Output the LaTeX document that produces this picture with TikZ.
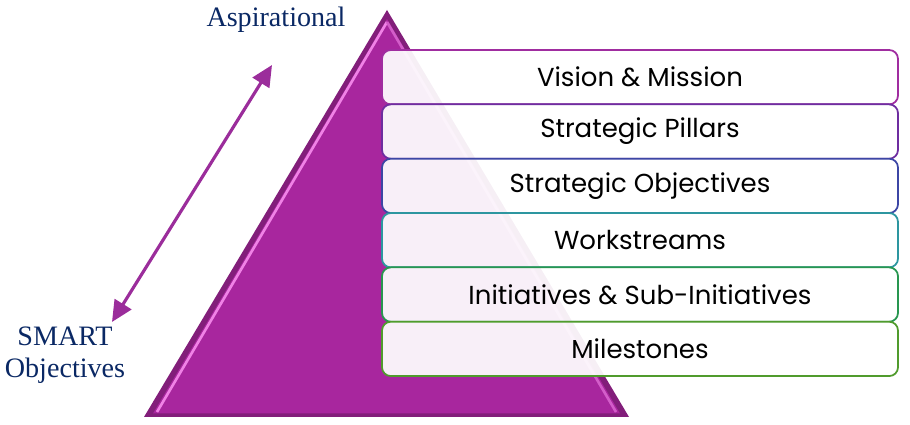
\documentclass[tikz,border=0pt]{standalone}
\usepackage{fontspec}
\usepackage{xcolor}
\usepackage{tikz}
\usetikzlibrary{arrows.meta, positioning, calc}
\setmainfont{Liberation Serif}
\newfontfamily\boxfont{Poppins}
\definecolor{pyramidcolor}{RGB}{168,38,158}
\definecolor{pyramiddark}{RGB}{130,30,122}
\definecolor{pyramidlight}{RGB}{240,130,230}
\definecolor{labelblue}{RGB}{10,40,100}
\definecolor{arrowcolor}{RGB}{155,45,155}
\definecolor{levelA}{RGB}{160,45,160}
\definecolor{levelB}{RGB}{110,45,160}
\definecolor{levelC}{RGB}{60,70,165}
\definecolor{levelD}{RGB}{45,150,160}
\definecolor{levelE}{RGB}{40,150,80}
\definecolor{levelF}{RGB}{80,155,45}

\begin{document}
\begin{tikzpicture}[
    level/.style={draw, line width=1pt, rounded corners=5pt, fill=white, fill opacity=0.93, text opacity=1, minimum width=10.32cm, minimum height=1.087cm, inner sep=0pt, font=\boxfont\fontsize{14.8}{17}\selectfont},
    side/.style={font=\fontsize{16}{18.5}\selectfont, text=labelblue, align=center}
]
    \useasboundingbox (0,0) rectangle (18.2,8.5);

    % Pyramid
    \coordinate (apex) at (7.74,8.30);
    \coordinate (bl) at (2.88,0.16);
    \coordinate (br) at (12.58,0.16);
    \fill[pyramiddark] (apex) -- (bl) -- (br) -- cycle;
    \fill[pyramidcolor] ($(apex)+(0,-0.18)$) -- ($(bl)+(0.18,0.07)$) -- ($(br)+(-0.18,0.07)$) -- cycle;
    \draw[pyramidlight, line width=1.5pt] ($(apex)+(0,-0.24)$) -- ($(bl)+(0.26,0.1)$);
    \draw[pyramidlight!60!pyramidcolor, line width=1.5pt] ($(apex)+(0,-0.24)$) -- ($(br)+(-0.26,0.1)$);

    % Levels
    \node[level, draw=levelA] (vision) at (12.80,6.956) {Vision \& Mission};
    \node[level, draw=levelB] (pillars) at (12.80,5.869) {Strategic Pillars};
    \node[level, draw=levelC] (objectives) at (12.80,4.782) {Strategic Objectives};
    \node[level, draw=levelD] (streams) at (12.80,3.696) {Workstreams};
    \node[level, draw=levelE] (initiatives) at (12.80,2.609) {Initiatives \& Sub-Initiatives};
    \node[level, draw=levelF] (milestones) at (12.80,1.522) {Milestones};

    % Side labels
    \node[side] (aspire) at (5.52,8.10) {Aspirational};
    \node[side] (smart) at (1.30,1.40) {SMART\\Objectives};
    \coordinate (uptip) at (5.44,7.20);
    \coordinate (downtip) at (2.24,2.06);
    \draw[{Triangle[length=12pt, width=11pt]}-{Triangle[length=12pt, width=11pt]}, arrowcolor, line width=1.8pt] (downtip) -- (uptip);
\end{tikzpicture}
\end{document}
